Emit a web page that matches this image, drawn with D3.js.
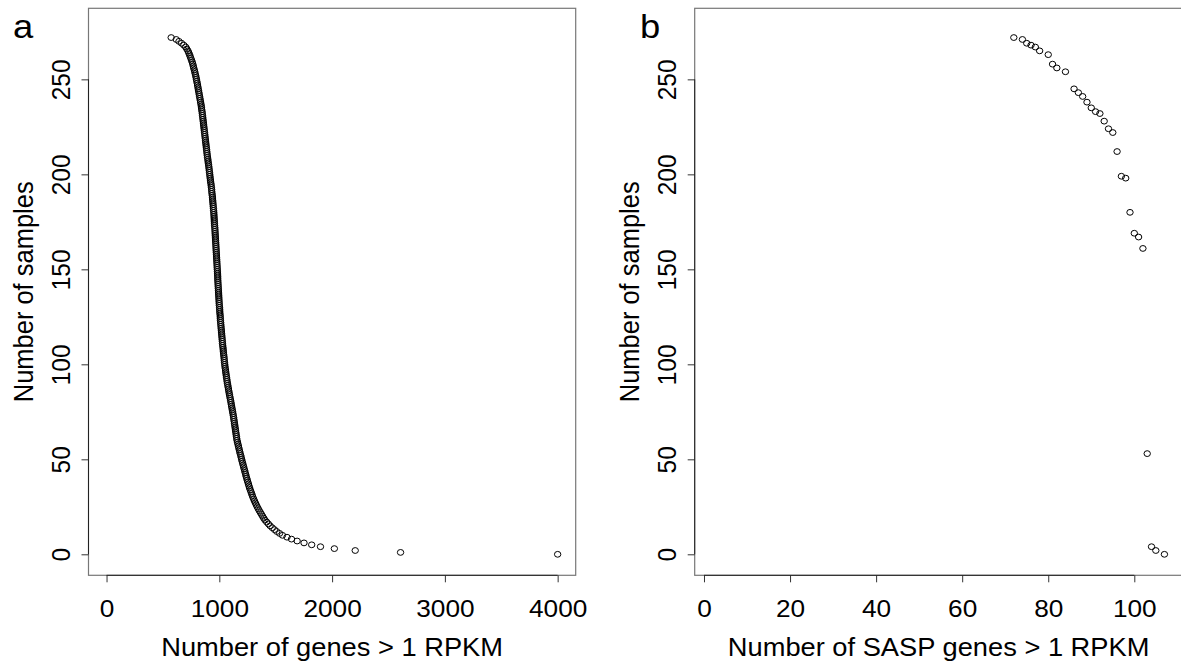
<!DOCTYPE html>
<html>
<head>
<meta charset="utf-8">
<script src="https://cdn.jsdelivr.net/npm/d3@7/dist/d3.min.js"></script>
<style>
  body { margin: 0; background: #fff; }
  text { font-family: "Liberation Sans", Arial, Helvetica, sans-serif; fill: #000; }
</style>
</head>
<body>
<svg id="chart" width="1181" height="671"></svg>
<script>
// Panel a: genes > 1 RPKM for each sample, sorted low to high
const genesPerSample = [
  573, 618, 642, 665, 685, 702, 712, 722, 729, 736,
  742, 748, 754, 760, 765, 769, 773, 778, 782, 786,
  790, 794, 797, 800, 804, 807, 810, 813, 816, 819,
  822, 825, 828, 831, 834, 837, 840, 842, 844, 847,
  849, 851, 853, 855, 857, 859, 861, 863, 865, 867,
  869, 871, 873, 875, 877, 879, 881, 883, 885, 887,
  889, 891, 893, 895, 898, 900, 902, 905, 907, 909,
  911, 913, 915, 917, 919, 921, 923, 926, 928, 930,
  932, 933, 935, 937, 939, 940, 942, 943, 945, 946,
  948, 949, 951, 952, 953, 954, 955, 956, 957, 958,
  960, 961, 962, 963, 964, 965, 966, 967, 968, 969,
  970, 971, 972, 973, 974, 975, 976, 977, 978, 979,
  980, 981, 982, 983, 984, 985, 986, 986, 987, 988,
  989, 990, 991, 992, 993, 994, 995, 996, 997, 998,
  999, 1000, 1002, 1003, 1004, 1005, 1007, 1008, 1009, 1010,
  1012, 1013, 1015, 1016, 1018, 1019, 1021, 1022, 1024, 1025,
  1027, 1028, 1030, 1032, 1034, 1035, 1037, 1039, 1041, 1043,
  1044, 1046, 1048, 1050, 1052, 1055, 1057, 1059, 1062, 1064,
  1067, 1069, 1072, 1075, 1078, 1081, 1084, 1087, 1090, 1093,
  1097, 1100, 1103, 1106, 1109, 1112, 1115, 1118, 1121, 1124,
  1127, 1129, 1132, 1134, 1137, 1139, 1142, 1144, 1147, 1149,
  1152, 1154, 1157, 1161, 1165, 1169, 1173, 1177, 1181, 1185,
  1190, 1194, 1198, 1202, 1207, 1211, 1216, 1220, 1225, 1229,
  1234, 1238, 1243, 1248, 1253, 1258, 1263, 1268, 1274, 1280,
  1286, 1292, 1298, 1305, 1312, 1320, 1328, 1336, 1345, 1354,
  1364, 1374, 1384, 1394, 1405, 1420, 1435, 1450, 1469, 1489,
  1509, 1534, 1560, 1600, 1640, 1690, 1751, 1819, 1897, 2020,
  2205, 2607, 4000
];

// Panel b: SASP genes > 1 RPKM vs number of samples
const saspGenes = [72, 74, 75, 76, 77, 78, 80, 81, 82, 84, 86, 87, 88, 89, 90, 91,
  92, 93, 94, 95, 96, 97, 98, 99, 100, 101, 102, 103, 104, 105, 107];
const saspSamples = [272, 271, 269, 268, 267, 265, 263, 258, 256, 254, 245, 243, 241, 238, 235, 233,
  232, 228, 224, 222, 212, 199, 198, 180, 169, 167, 161, 53, 4, 2, 0];

const xTicksA = [0, 1000, 2000, 3000, 4000];
const xTicksB = [0, 20, 40, 60, 80, 100];
const yTicks = [0, 50, 100, 150, 200, 250];

// every sample gets a point: x = its gene count, y = samples ranked above it
const dataA = genesPerSample.map((g, i) => ({ x: g, y: genesPerSample.length - 1 - i }));
const dataB = saspGenes.map((g, i) => ({ x: g, y: saspSamples[i] }));

const svg = d3.select('#chart');
const SX = 1.07; // text in the figure is slightly wider than tall
const plotTop = 8.3;
const plotBottom = 575.3;
const fmt = d3.format('d');

const yScale = d3.scaleLinear().domain([-11.05, 287.4]).range([plotBottom, plotTop]);

const drawPanel = (opt) => {
  const { left, right, xScale, xTicks, data, xLabel, tag, tagX } = opt;
  const g = svg.append('g');

  // box
  g.append('rect')
    .attr('x', left).attr('y', plotTop)
    .attr('width', right - left).attr('height', plotBottom - plotTop)
    .attr('fill', 'none').attr('stroke', '#777').attr('stroke-width', 1.2);

  // bottom axis
  const xa = g.append('g')
    .attr('transform', `translate(0,${plotBottom})`)
    .call(d3.axisBottom(xScale).tickValues(xTicks).tickFormat(fmt).tickSize(7).tickSizeOuter(0));
  xa.select('.domain').remove();
  xa.append('line')
    .attr('x1', xScale(xTicks[0])).attr('x2', xScale(xTicks[xTicks.length - 1]))
    .attr('stroke', '#222');
  xa.selectAll('.tick line').attr('stroke', '#333');
  xa.selectAll('.tick text')
    .attr('y', 41.4).attr('dy', 0)
    .attr('transform', `scale(${SX},1)`)
    .style('font-size', '24.5px').attr('fill', '#000');

  // left axis, labels turned up like R's default
  const ya = g.append('g')
    .attr('transform', `translate(${left},0)`)
    .call(d3.axisLeft(yScale).tickValues(yTicks).tickFormat(fmt).tickSize(7).tickSizeOuter(0));
  ya.select('.domain').remove();
  ya.append('line')
    .attr('y1', yScale(yTicks[0])).attr('y2', yScale(yTicks[yTicks.length - 1]))
    .attr('stroke', '#222');
  ya.selectAll('.tick line').attr('stroke', '#333');
  ya.selectAll('.tick text')
    .attr('x', 0).attr('y', 0).attr('dy', 0)
    .attr('text-anchor', 'middle')
    .attr('transform', `translate(-18.5,0) scale(${SX},1) rotate(-90)`)
    .style('font-size', '24.5px').attr('fill', '#000');

  // points
  g.append('g').selectAll('ellipse')
    .data(data)
    .enter()
    .append('ellipse')
    .attr('cx', (d) => xScale(d.x))
    .attr('cy', (d) => yScale(d.y))
    .attr('rx', 3.2).attr('ry', 2.9)
    .attr('fill', 'none').attr('stroke', '#000').attr('stroke-width', 1);

  // titles
  g.append('text')
    .attr('transform', `translate(${(left + right) / 2},656) scale(${SX},1)`)
    .attr('text-anchor', 'middle')
    .style('font-size', '25.5px')
    .text(xLabel);
  g.append('text')
    .attr('transform', `translate(${left - 55.5},${(plotTop + plotBottom) / 2}) scale(${SX},1) rotate(-90)`)
    .attr('text-anchor', 'middle')
    .style('font-size', '25.5px')
    .text('Number of samples');

  // panel letter
  g.append('text')
    .attr('transform', `translate(${tagX},38.3) scale(${SX},1)`)
    .style('font-size', '34px')
    .text(tag);
};

drawPanel({
  left: 88.5, right: 575.7,
  xScale: d3.scaleLinear().domain([-160, 4160]).range([88.5, 575.7]),
  xTicks: xTicksA, data: dataA,
  xLabel: 'Number of genes > 1 RPKM', tag: 'a', tagX: 13
});

drawPanel({
  left: 694.7, right: 1182.5,
  xScale: d3.scaleLinear().domain([-2.16, 111.2]).range([694.7, 1182.5]),
  xTicks: xTicksB, data: dataB,
  xLabel: 'Number of SASP genes > 1 RPKM', tag: 'b', tagX: 640
});
</script>
</body>
</html>
